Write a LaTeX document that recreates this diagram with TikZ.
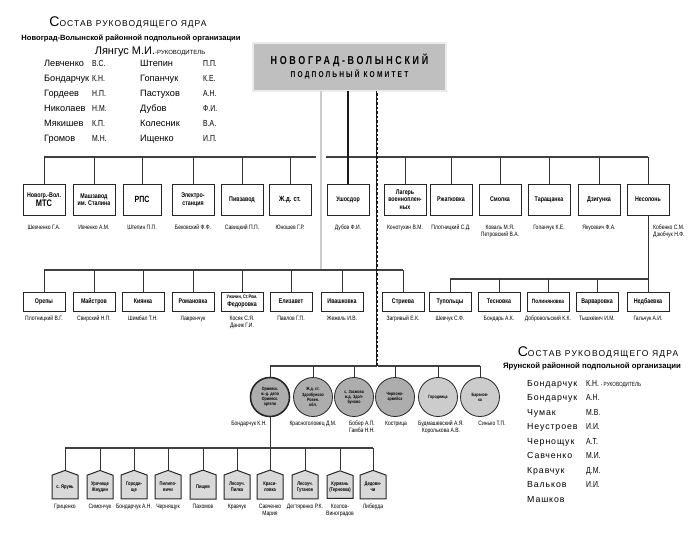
\documentclass[tikz,border=0pt]{standalone}
\usepackage{fontspec}
\setmainfont{Liberation Sans}
\newfontfamily\cond{Liberation Sans}[FakeStretch=0.78]
\newfontfamily\lab{Liberation Sans}[FakeStretch=0.8]
\usetikzlibrary{shapes.symbols}
\begin{document}
\begin{tikzpicture}[x=1pt,y=-1pt,
 ln/.style={line width=0.7pt, draw=black!80},
 bar/.style={line width=1.4pt, draw=black!75},
 thk/.style={line width=2.2pt, draw=black!90},
 dbl/.style={line width=0.5pt, draw=black!60, double=black!20, double distance=1.6pt},
 ttl/.style={draw=black!85, line width=0.7pt, double=black!8, double distance=1.3pt, fill=black!25, minimum width=193pt, minimum height=48pt, align=center, inner sep=2pt, font=\cond\bfseries\fontsize{11.5}{12}\selectfont\addfontfeature{LetterSpace=23}},
 bx/.style={draw=black!85, line width=0.9pt, fill=white, minimum width=42pt, minimum height=31pt, inner sep=1pt, align=center, font=\cond\bfseries\fontsize{6.8}{7.6}\selectfont},
 bxs/.style={bx, minimum height=19pt},
 nm/.style={font=\lab\fontsize{6.3}{7}\selectfont, align=center, inner sep=0pt, anchor=north},
 crc/.style={circle, draw=black!85, line width=0.8pt, fill=black!32, minimum size=39pt, inner sep=0pt, align=center, font=\cond\bfseries\fontsize{4.6}{5.1}\selectfont},
 pen/.style={signal, signal to=north, signal pointer angle=140, draw=black!85, line width=1pt, fill=black!15, minimum width=26pt, minimum height=27pt, inner sep=0.5pt, align=center, font=\cond\bfseries\fontsize{5.2}{5.8}\selectfont},
 lw/.style={anchor=base west, inner sep=0pt, font=\fontsize{9.2}{9}\selectfont},
 li/.style={anchor=base west, inner sep=0pt, font=\cond\fontsize{8.8}{9}\selectfont},
]
\useasboundingbox (0,0) rectangle (700,542);

% ---------- left header ----------
\node[inner sep=0pt, font=\fontsize{8.5}{8}\selectfont\addfontfeature{LetterSpace=12}] (h1) at (128,22) {{\fontsize{14}{14}\selectfont С}ОСТАВ РУКОВОДЯЩЕГО ЯДРА};
\node[inner sep=0pt, font=\bfseries\fontsize{7.6}{8}\selectfont] (h2) at (131,38) {Новоград-Волынской районной подпольной организации};
\node[inner sep=0pt] (h3) at (150,52) {{\fontsize{11}{11}\selectfont Лянгус М.И.}{\fontsize{6}{6}\selectfont -РУКОВОДИТЕЛЬ}};
\foreach \y/\a/\b/\c/\d [count=\i] in {66/Левченко/В.С./Штепин/П.П., 81/Бондарчук/К.Н./Гопанчук/К.Е., 96/Гордеев/Н.П./Пастухов/А.Н., 111/Николаев/Н.М./Дубов/Ф.И., 126/Мякишев/К.П./Колесник/В.А., 141/Громов/М.Н./Ищенко/И.П.}{
 \node[lw] (na\i) at (44,\y) {\a};
 \node[li] (ia\i) at (92,\y) {\b};
 \node[lw] (nb\i) at (140,\y) {\c};
 \node[li] (ib\i) at (203,\y) {\d};
}

% ---------- title ----------
\node[ttl] (top) at (349.5,67) {НОВОГРАД-ВОЛЫНСКИЙ\\[1pt]{\fontsize{8.5}{9}\selectfont\addfontfeature{LetterSpace=25}ПОДПОЛЬНЫЙ КОМИТЕТ}};

% ---------- row 1 ----------
\foreach \n/\x/\t in {r1a/44/{Новогр.-Вол.\\{\fontsize{9.5}{10}\selectfont МТС}}, r1b/94/{Машзавод\\им. Сталина}, r1d/193/{Электро-\\станция}, r1e/242/Пивзавод, r1f/290/{\fontsize{7.5}{8}\selectfont Ж.д. ст.}, r1g/348/Ушосдор, r1h/405/{Лагерь\\военноплен-\\ных}, r1i/451/Ржатковка, r1j/500/Смолка, r1k/549/Таращанка, r1l/599/Дзигунка, r1m/648/Несолонь}{
 \node[bx] (\n) at (\x,199.5) {\t};
}
\node[bx, minimum width=38pt] (r1c) at (142,199.5) {\fontsize{9}{10}\selectfont РПС};
\foreach \n/\x/\t in {l1a/44/{Шевченко Г.А.}, l1b/94/{Ивченко А.М.}, l1c/142/{Штепин П.П.}, l1d/193/{Бековский Ф.Ф.}, l1e/242/{Савицкий П.П.}, l1f/290/{Юношев Г.Р.}, l1g/348/{Дубов Ф.И.}, l1h/405/{Конотухин В.М.}, l1i/451/{Плотницкий С.Д.}, l1j/500/{Коваль М.Я.\\Петровский В.А.}, l1k/549/{Гопанчук К.Е.}, l1l/599/{Якусевич Ф.А.}}{
 \node[nm] (\n) at (\x,225) {\t};
}
\node[nm, anchor=north west, align=left] (l1m) at (653,225) {Кобенко С.М.\\Дзюбчук Н.Ф.};

% ---------- row 2 ----------
\foreach \n/\x/\t in {r2a/44/Орепы, r2b/94/Майстров, r2c/143/Киянка, r2d/193/Романовка, r2e/242/{\fontsize{5}{5.6}\selectfont Ужачин, Ст.Ром.\\Федоровка}, r2f/291/Елизавет, r2g/342/Ивашковка, r2h/403/Стриева, r2i/450/Тупольцы, r2j/499/Тесновка, r2k/548/{\fontsize{6.2}{7}\selectfont Полиняновка}, r2l/597/Варваровка, r2m/648/Недбаевка}{
 \node[bxs] (\n) at (\x,301.5) {\t};
}
\foreach \n/\x/\t in {l2a/44/{Плотницкий В.Г.}, l2b/94/{Свирский Н.П.}, l2c/143/{Шимбал Т.Н.}, l2d/193/{Лавренчук}, l2e/242/{Косяк С.Я.\\Даник Г.И.}, l2f/291/{Павлов Г.П.}, l2g/342/{Жежель И.В.}, l2h/403/{Загривый Е.К.}, l2i/450/{Шевчук С.Ф.}, l2j/499/{Бондарь А.К.}, l2k/548/{Добровольский К.К.}, l2l/597/{Тышкевич И.М.}, l2m/648/{Гальчук А.И.}}{
 \node[nm] (\n) at (\x,316) {\t};
}

% ---------- circles ----------
\node[crc, line width=1.6pt] (c1) at (270,397) {Оржевск.\\ж.-д. депо\\Оржевск.\\артели};
\node[crc] (c2) at (313,397) {Ж.д. ст.\\Здолбуново\\Ровен.\\обл.};
\node[crc] (c3) at (354,397) {с. Засмова\\ж.д. Здол-\\буново};
\node[crc] (c4) at (395,397) {Червоно-\\армейск};
\node[crc, fill=black!20] (c5) at (438,397) {Городница};
\node[crc, fill=black!20] (c6) at (480,397) {Баранов-\\ка};
\node[nm, anchor=north east] (lc1) at (267,421) {Бондарчук К.Н.};
\node[nm] (lc2) at (313,421) {Красноголовец Д.М.};
\node[nm] (lc3) at (362,421) {Бобер А.П.\\Гамба Н.Н.};
\node[nm] (lc4) at (396,421) {Кострица};
\node[nm] (lc5) at (441,421) {Будмашевский А.Я.\\Королькова А.В.};
\node[nm] (lc6) at (492,421) {Синько Т.П.};

% ---------- pentagons ----------
\foreach \n/\x/\t in {p1/65/{с. Ярунь}, p2/100/{Урочище\\Жмудин}, p3/134/{Городи-\\ще}, p4/168/{Пилипо-\\вичи}, p5/203/Пищев, p6/237/{Лесоуч.\\Пилка}, p7/270/{Краси-\\ловка}, p8/305/{Лесоуч.\\Гутанов}, p9/340/{Курмань\\(Терновка)}, p10/373/{Дедови-\\чи}}{
 \node[pen] (\n) at (\x,487) {\t};
}
\foreach \n/\x/\t in {lp1/65/Гриценко, lp2/100/Симончук, lp3/134/{Бондарчук А.Н.}, lp4/168/Чернящук, lp5/203/Пахомов, lp6/237/Кравчук, lp7/270/{Савченко\\Мария}, lp8/305/{Дегтяренко Р.К.}, lp9/340/{Козлов-\\Виноградов}, lp10/373/Либерда}{
 \node[nm] (\n) at (\x,504) {\t};
}

% ---------- right list ----------
\node[inner sep=0pt, font=\fontsize{8.5}{8}\selectfont\addfontfeature{LetterSpace=14}] (h4) at (598,352) {{\fontsize{14}{14}\selectfont С}ОСТАВ РУКОВОДЯЩЕГО ЯДРА};
\node[inner sep=0pt, font=\bfseries\fontsize{7.8}{8}\selectfont] (h5) at (592,366) {Ярунской районной подпольной организации};
\foreach \y/\a/\b [count=\i] in {386/Бондарчук/{К.Н. {\fontsize{6}{6}\selectfont - РУКОВОДИТЕЛЬ}}, 400.5/Бондарчук/А.Н., 415/Чумак/М.В., 429.5/Неустроев/И.И., 444/Чернощук/А.Т., 458.5/Савченко/М.И., 473/Кравчук/Д.М., 487.5/Вальков/И.И., 502/Машков/{}}{
 \node[lw, font=\fontsize{8.8}{9}\selectfont\addfontfeature{LetterSpace=10}] (rn\i) at (527,\y) {\a};
 \node[li] (ri\i) at (586,\y) {\b};
}

% ---------- connectors ----------
\coordinate (b1) at (0,157);
\coordinate (b2) at (0,270);
\coordinate (b3) at (0,279);
\coordinate (b4) at (0,366);
\coordinate (b5) at (0,448);
\coordinate (gapL) at (316,157);
\coordinate (gapR) at (326,157);
\coordinate (lA) at (321,270);
\coordinate (lC) at (377,366);

\draw[bar] (r1a.north |- b1) -- (gapL);
\draw[bar] (gapR) -- (r1m.north |- b1);
\foreach \n in {r1a,r1b,r1c,r1d,r1e,r1f,r1h,r1i,r1j,r1k,r1l,r1m}{\draw[ln] (\n.north) -- (\n.north |- b1);}
\draw[thk] (top.south -| r1g) -- (r1g.north);
\draw[dbl] (top.south -| lA) -- (lA);

\draw[bar] (r2a.north |- b2) -- (r2h.north |- b2);
\foreach \n in {r2a,r2b,r2c,r2d,r2e,r2f,r2g,r2h}{\draw[ln] (\n.north) -- (\n.north |- b2);}
\draw[bar] (r2i.north |- b3) -- (r2m.north |- b3);
\foreach \n in {r2i,r2j,r2k,r2l,r2m}{\draw[ln] (\n.north) -- (\n.north |- b3);}
\draw[ln] (r1m.south) -- (r1m.south |- b3);

\draw[bar] (c1.north |- b4) -- (c6.north |- b4);
\foreach \n in {c1,c2,c3,c4,c5,c6}{\draw[ln] (\n.north) -- (\n.north |- b4);}
\draw[thk] (top.south -| lC) -- (lC);
\draw[white, line width=0.5pt, dash pattern=on 2pt off 2.5pt] (top.south -| lC) -- (lC);

\draw[bar] (p1.north |- b5) -- (p10.north |- b5);
\foreach \n in {p1,p2,p3,p4,p5,p6,p7,p8,p9,p10}{\draw[ln] (\n.north) -- (\n.north |- b5);}
\draw[ln] (c1.south) -- (c1.south |- b5);
\end{tikzpicture}
\end{document}
